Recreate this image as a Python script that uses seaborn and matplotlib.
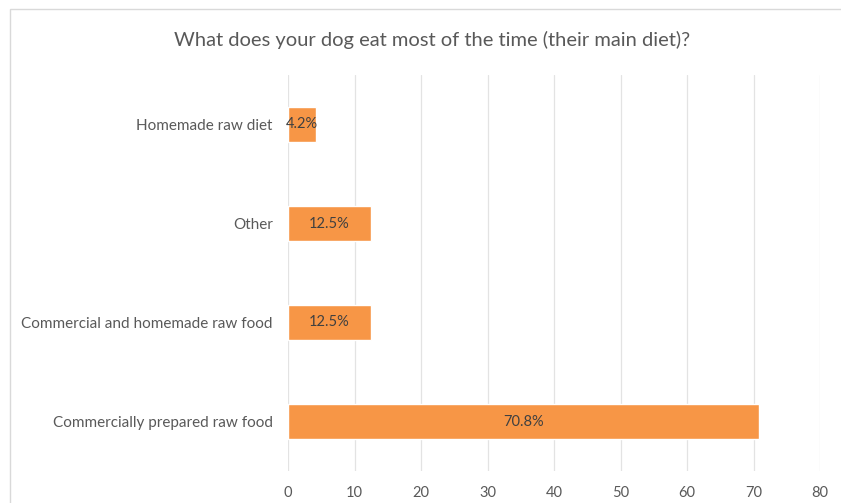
import matplotlib
matplotlib.use("Agg")
import matplotlib.pyplot as plt
import seaborn as sns
import pandas as pd
from matplotlib.patches import Rectangle

categories = ["Homemade raw diet", "Other", "Commercial and homemade raw food",
              "Commercially prepared raw food"]
values = [4.2, 12.5, 12.5, 70.8]
value_labels = ["4.2%", "12.5%", "12.5%", "70.8%"]
xticks = [0, 10, 20, 30, 40, 50, 60, 70, 80]
title = "What does your dog eat most of the time (their main diet)?"

sns.set_theme(style="white")
plt.rcParams['font.family'] = ['Lato', 'DejaVu Sans']

df = pd.DataFrame({"cat": categories, "val": values})

fig = plt.figure(figsize=(8.41, 5.03), dpi=100)
ax = fig.add_axes([288/841, 1-471/503, (820-288)/841, (471-75)/503])

sns.barplot(data=df, y="cat", x="val", order=categories, orient="h",
            color="#F79646", saturation=1, width=0.35, ax=ax)

for p, lab in zip(ax.patches, value_labels):
    ax.text(p.get_x() + p.get_width()/2, p.get_y() + p.get_height()/2, lab,
            ha="center", va="center", fontsize=10.5, color="#404040")

ax.set_xlim(0, 80)
ax.set_xticks(xticks)
ax.set_xticklabels([str(t) for t in xticks], fontsize=10.5, color="#595959")
ax.tick_params(axis="y", labelsize=11, labelcolor="#595959", length=0, pad=11)
ax.tick_params(axis="x", length=0, pad=11)
ax.set_xlabel("")
ax.set_ylabel("")
ax.xaxis.grid(True, color="#E3E3E3", linewidth=0.9)
ax.set_axisbelow(True)
for s in ["top", "right", "bottom", "left"]:
    ax.spines[s].set_visible(False)

fig.text(432/841, 1-40/503, title, ha="center", va="center", fontsize=14.5, color="#595959")

fig.patches.append(Rectangle((10/841, -0.05), 1.0, 1-9/503+0.05, transform=fig.transFigure,
                             fill=False, edgecolor="#D9D9D9", linewidth=1))

fig.savefig("out.png", dpi=100)
